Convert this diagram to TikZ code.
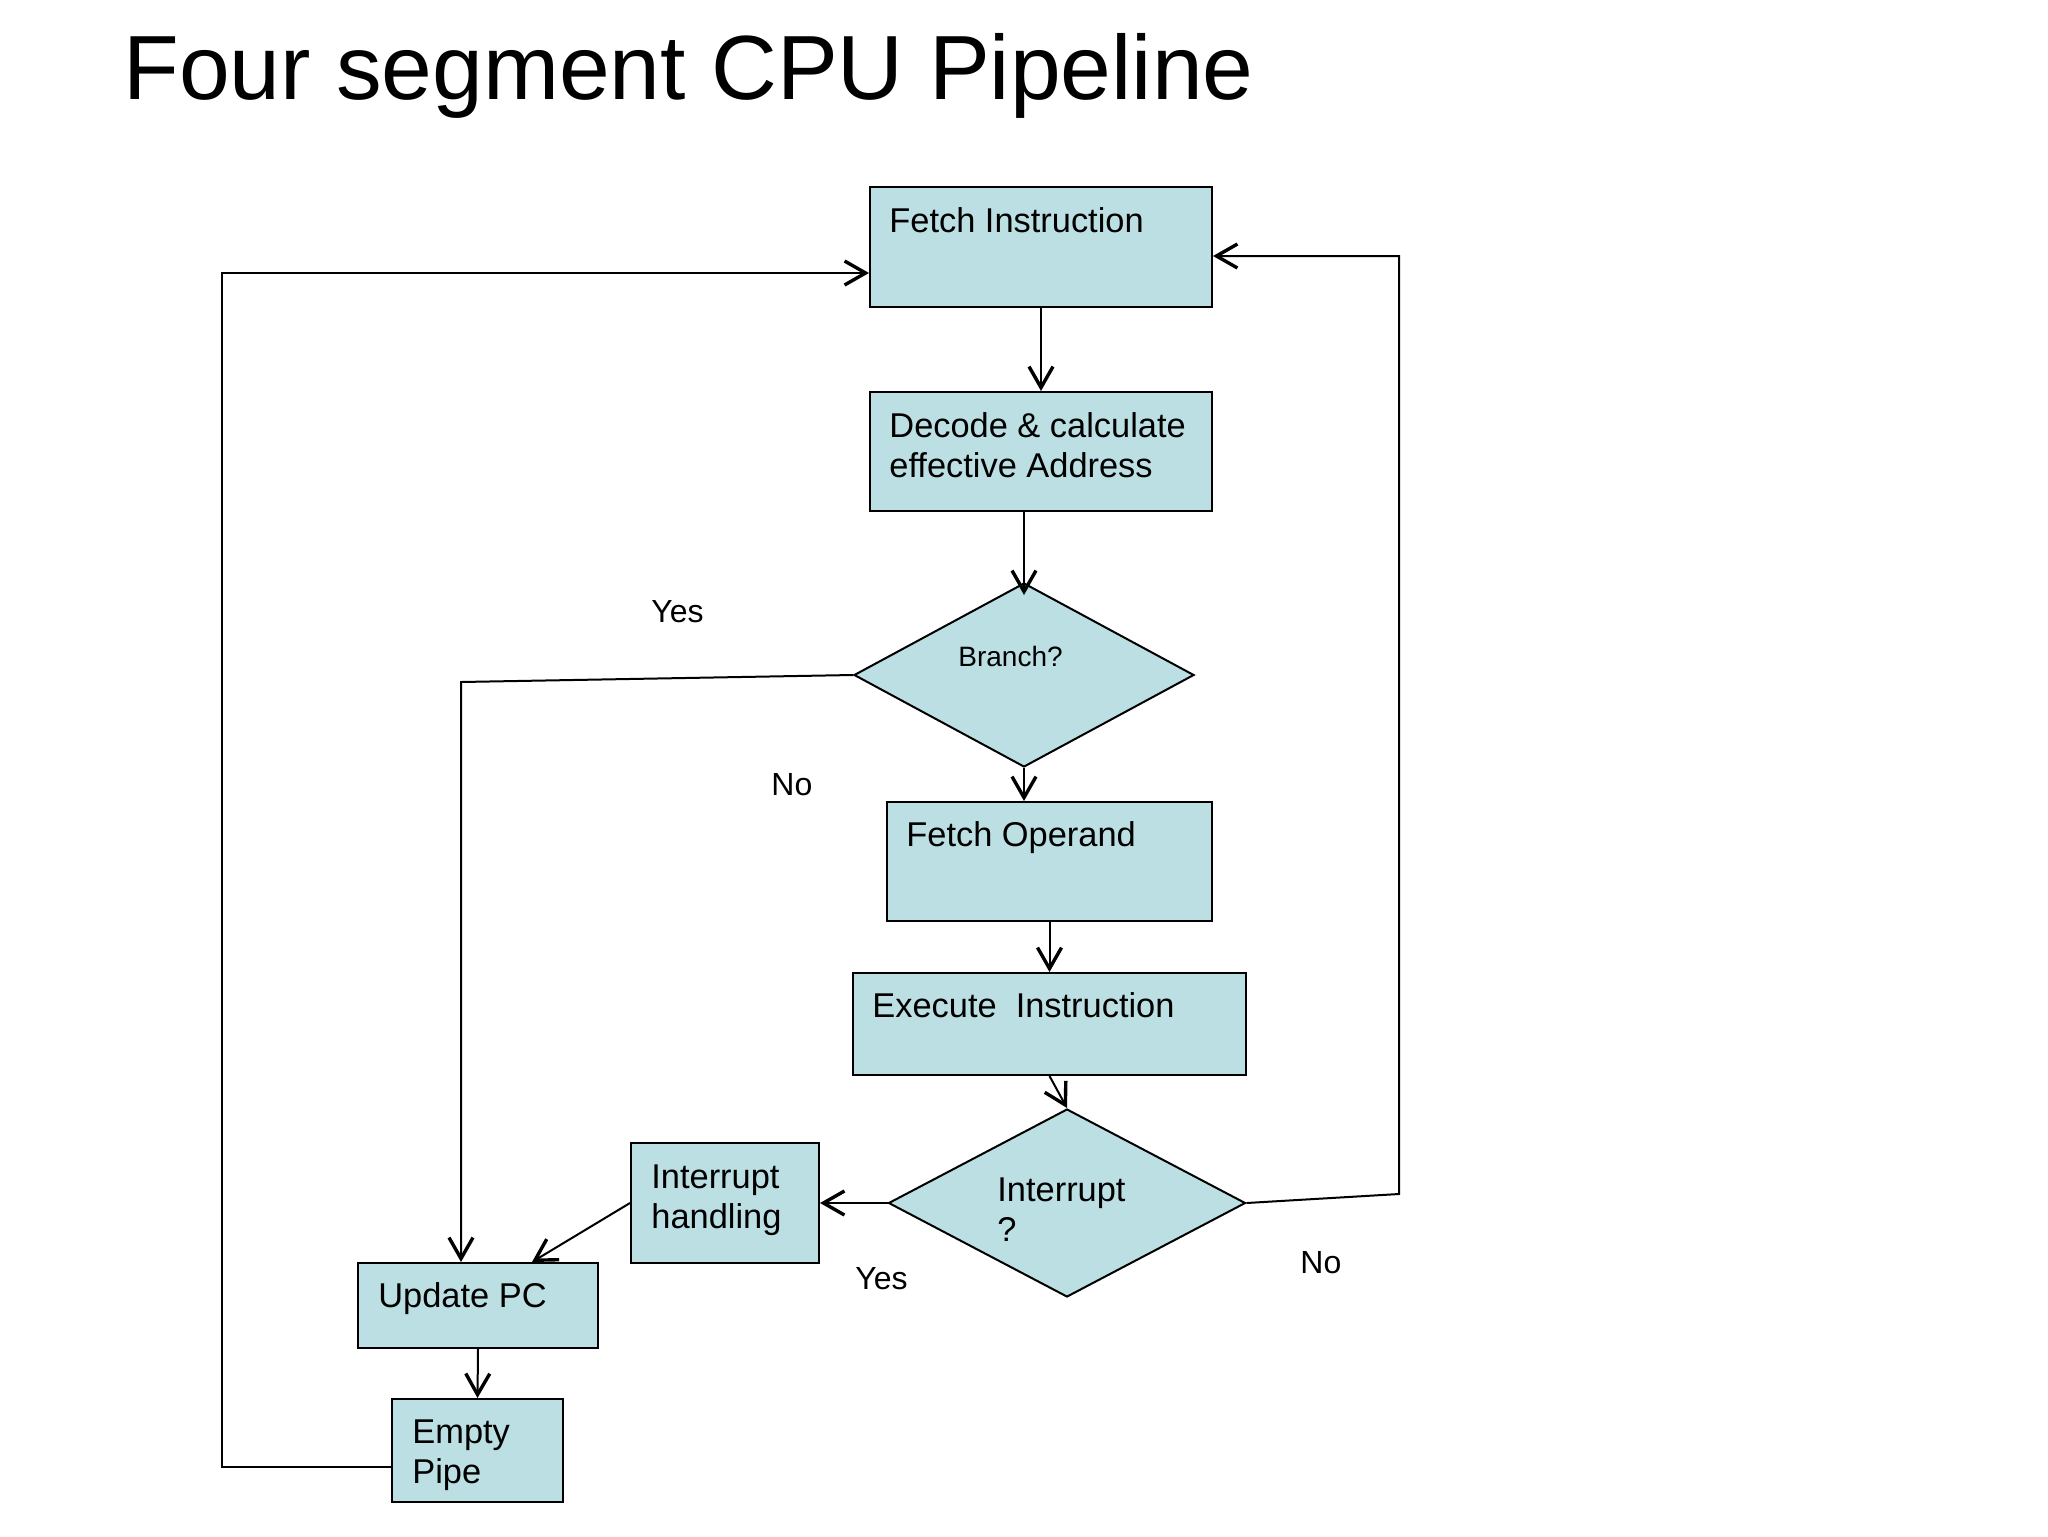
\documentclass[tikz,border=0pt]{standalone}
\usepackage{fontspec}
\setmainfont{Liberation Sans}
\usetikzlibrary{arrows.meta,shapes.geometric,fit}
\definecolor{boxfill}{RGB}{187,223,226}
\begin{document}
\begin{tikzpicture}[x=0.5pt,y=-0.5pt,
 box/.style={draw=black, line width=1pt, fill=boxfill, inner sep=0pt},
 dia/.style={diamond, draw=black, line width=1pt, fill=boxfill, inner sep=0pt},
 conn/.style={line width=1pt},
 arr/.style={conn, -{Straight Barb[length=10.5pt,width=12pt,line width=1.7pt]}},
 txt/.style={anchor=base west, inner sep=0pt, font=\fontsize{17.2}{20}\selectfont},
 lbl/.style={anchor=base west, inner sep=0pt, font=\fontsize{16}{19}\selectfont},
]
\useasboundingbox (0,0) rectangle (2048,1536);
\fill[white] (0,0) rectangle (2048,1536);

\node[anchor=base west, inner sep=0pt, font=\fontsize{45.6}{55}\selectfont] (title) at (123,99) {Four segment CPU Pipeline};

% boxes
\node[box, fit={(870,187) (1212,307)}] (fi) {};
\node[box, fit={(870,392) (1212,511)}] (dec) {};
\node[dia, minimum width=170pt, minimum height=92pt] (br) at (1024,675) {};
\node[box, fit={(887,802) (1212,921)}] (fo) {};
\node[box, fit={(853,973) (1246,1075)}] (ex) {};
\node[dia, minimum width=178.5pt, minimum height=94pt] (ii) at (1067,1203) {};
\node[box, fit={(631,1143) (819,1263)}] (ih) {};
\node[box, fit={(358,1263) (598,1348)}] (up) {};
\node[box, fit={(392,1399) (563,1502)}] (ep) {};

% texts
\node[txt] (fi-t) at (889,232) {Fetch Instruction};
\node[txt] (dec-t1) at (889,437) {Decode \& calculate};
\node[txt] (dec-t2) at (889,477) {effective Address};
\node[anchor=base west, inner sep=0pt, font=\fontsize{14}{17}\selectfont] (br-t) at (958,666) {Branch?};
\node[txt] (fo-t) at (906,846) {Fetch Operand};
\node[txt] (ex-t) at (872,1017) {Execute~~Instruction};
\node[txt] (ih-t1) at (651,1188) {Interrupt};
\node[txt] (ih-t2) at (651,1228) {handling};
\node[txt] (ii-t1) at (997,1201) {Interrupt};
\node[txt] (ii-t2) at (997,1241) {?};
\node[txt] (up-t) at (378,1307) {Update PC};
\node[txt] (ep-t1) at (412,1443) {Empty};
\node[txt] (ep-t2) at (412,1483) {Pipe};

% labels
\node[lbl] (yes1) at (651,622) {Yes};
\node[lbl] (no1) at (771,795) {No};
\node[lbl] (yes2) at (855,1289) {Yes};
\node[lbl] (no2) at (1300,1273) {No};

% coordinates
\coordinate (bl) at (461,682);
\coordinate (el) at (222,1467);
\coordinate (et) at (222,273);
\coordinate (rb) at (1399,1194);
\coordinate (rt) at (1399,256);

% connectors
\draw[arr] (fi.south) -- (dec.north);
\draw[arr, shorten >=-6.5pt] (dec.south -| br.north) -- (br.north);
\draw[arr] (br.south) -- (br.south |- fo.north);
\draw[arr] (fo.south) -- (ex.north);
\draw[arr] (ex.south) -- (ii.north);
\draw[arr] (br.west) -- (bl) -- (bl |- up.north);
\draw[arr] (ii.west) -- (ih.east);
\draw[arr] (ih.west) -- ([xshift=27pt]up.north);
\draw[arr] (up.south) -- (ep.north);
\draw[arr] (ep.west |- el) -- (el) -- (et) -- (et -| fi.west);
\draw[arr] (ii.east) -- (rb) -- (rt) -- (rt -| fi.east);
\end{tikzpicture}
\end{document}
